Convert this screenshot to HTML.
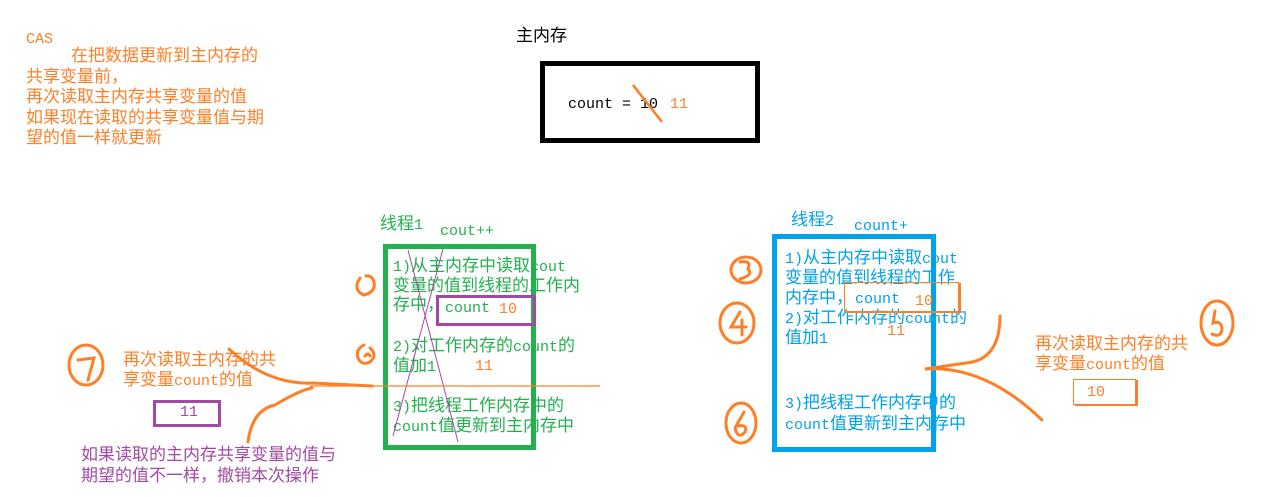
<!DOCTYPE html>
<html><head><meta charset="utf-8"><style>
body{margin:0;width:1274px;height:497px;background:#fff;position:relative;overflow:hidden;font-family:"Liberation Mono","Noto Sans CJK SC",monospace;}
.t{position:absolute;white-space:nowrap;font-size:17px;line-height:20px;}
.t i{font-style:normal;font-size:15px;}
.o{color:#ff7f27}.g{color:#22b14c}.b{color:#00a2e8}.p{color:#a349a4}.k{color:#000}
.bx{position:absolute;box-sizing:border-box;}
</style></head><body>
<div class="t o" style="left:26px;top:30px;"><i>CAS</i></div>
<div class="t o" style="left:26px;top:48px;line-height:20.5px;"><i>&nbsp;&nbsp;&nbsp;&nbsp;&nbsp;</i>在把数据更新到主内存的<br>共享变量前，<br>再次读取主内存共享变量的值<br>如果现在读取的共享变量值与期<br>望的值一样就更新</div>
<div class="t k" style="left:516px;top:28px;">主内存</div>
<div class="bx" style="left:540px;top:61px;width:220px;height:82px;border:5px solid #000;"></div>
<div class="t k" style="left:568px;top:95px;"><i>count = 10</i></div>
<div class="t o" style="left:670px;top:95px;"><i>11</i></div>

<div class="t g" style="left:380px;top:216px;">线程<i>1</i></div>
<div class="t g" style="left:440px;top:222px;"><i>cout++</i></div>
<div class="bx" style="left:383px;top:244px;width:153px;height:206px;border:5px solid #22b14c;"></div>
<div class="t g" style="left:393px;top:258px;line-height:19.5px;"><i>1)</i>从主内存中读取<i>cout</i><br>变量的值到线程的工作内<br>存中，</div>
<div class="bx" style="left:436px;top:295px;width:100px;height:31px;border:3px solid #a349a4;"></div>
<div class="t g" style="left:445px;top:299px;"><i>count</i></div>
<div class="t o" style="left:499px;top:300px;"><i>10</i></div>
<div class="t g" style="left:393px;top:338px;line-height:19.5px;"><i>2)</i>对工作内存的<i>count</i>的<br>值加<i>1</i></div>
<div class="t o" style="left:475px;top:357px;"><i>11</i></div>
<div class="t g" style="left:393px;top:398px;line-height:19.5px;"><i>3)</i>把线程工作内存中的<br><i>count</i>值更新到主内存中</div>

<div class="t b" style="left:791px;top:212px;">线程<i>2</i></div>
<div class="t b" style="left:854px;top:217px;"><i>count+</i></div>
<div class="bx" style="left:772px;top:234px;width:164px;height:218px;border:5px solid #00a2e8;"></div>
<div class="t b" style="left:785px;top:250px;line-height:20px;"><i>1)</i>从主内存中读取<i>cout</i><br>变量的值到线程的工作<br>内存中，<br><i>2)</i>对工作内存的<i>count</i>的<br>值加<i>1</i></div>
<div class="bx" style="left:844px;top:282px;width:115px;height:30px;border:1px solid #ff7f27;box-shadow:2px 1px 0 0 #ff7f27;"></div>
<div class="t b" style="left:855px;top:290px;"><i>count</i></div>
<div class="t o" style="left:915px;top:292px;"><i>10</i></div>
<div class="t o" style="left:887px;top:322px;"><i>11</i></div>
<div class="t b" style="left:785px;top:394px;line-height:21px;"><i>3)</i>把线程工作内存中的<br><i>count</i>值更新到主内存中</div>

<div class="t o" style="left:123px;top:352px;">再次读取主内存的共<br>享变量<i>count</i>的值</div>
<div class="bx" style="left:153px;top:400px;width:68px;height:27px;border:3px solid #a349a4;"></div>
<div class="t p" style="left:180px;top:403px;"><i>11</i></div>
<div class="t p" style="left:81px;top:446px;line-height:21px;">如果读取的主内存共享变量的值与<br>期望的值不一样，撤销本次操作</div>

<div class="t o" style="left:1035px;top:336px;">再次读取主内存的共<br>享变量<i>count</i>的值</div>
<div class="bx" style="left:1073px;top:379px;width:63px;height:26px;border:1px solid #ff7f27;box-shadow:2px 1px 0 0 #ff7f27;"></div>
<div class="t o" style="left:1087px;top:383px;"><i>10</i></div>

<svg width="1274" height="497" style="position:absolute;left:0;top:0" fill="none">
<line x1="633" y1="85" x2="662" y2="122" stroke="#ff7f27" stroke-width="2.5"/>
<line x1="408" y1="250" x2="458" y2="442" stroke="#a349a4" stroke-width="1"/>
<line x1="443" y1="249" x2="393" y2="436" stroke="#a349a4" stroke-width="1"/>
<line x1="310" y1="386" x2="600" y2="386" stroke="#ff7f27" stroke-width="1.2"/>
<g stroke="#ff7f27" stroke-width="3" stroke-linecap="round">
<path d="M229 349 Q268 385 312 383 L372 386"/>
<path d="M248 442 Q252 410 275 405 Q300 390 312 388"/>
<path d="M1000 316 Q1000 360 966 363 L925 369 Q985 365 1042 420"/>
<path d="M360 278 Q352 290 364 295 Q376 292 374 282 Q372 275 366 276"/>
<path d="M364 345 Q355 350 358 358 Q362 366 370 362 Q378 355 370 348 M365 356 Q368 352 370 356"/>
<ellipse cx="86" cy="365" rx="17" ry="20"/>
<path d="M78 360 L94 358 L88 380"/>
<ellipse cx="746" cy="270" rx="15" ry="13"/>
<path d="M740 262 Q752 260 748 269 Q754 275 740 279"/>
<ellipse cx="737" cy="323" rx="17" ry="20"/>
<path d="M740 312 L731 327 L746 327 M742 320 L742 335"/>
<ellipse cx="741" cy="423" rx="15" ry="20"/>
<path d="M744 412 L735 428 Q738 440 745 432 Q748 424 738 426"/>
<ellipse cx="1217" cy="323" rx="16" ry="22"/>
<path d="M1215 311 L1213 323 Q1222 320 1222 330 Q1220 338 1212 334"/>
</g>
</svg>
</body></html>
